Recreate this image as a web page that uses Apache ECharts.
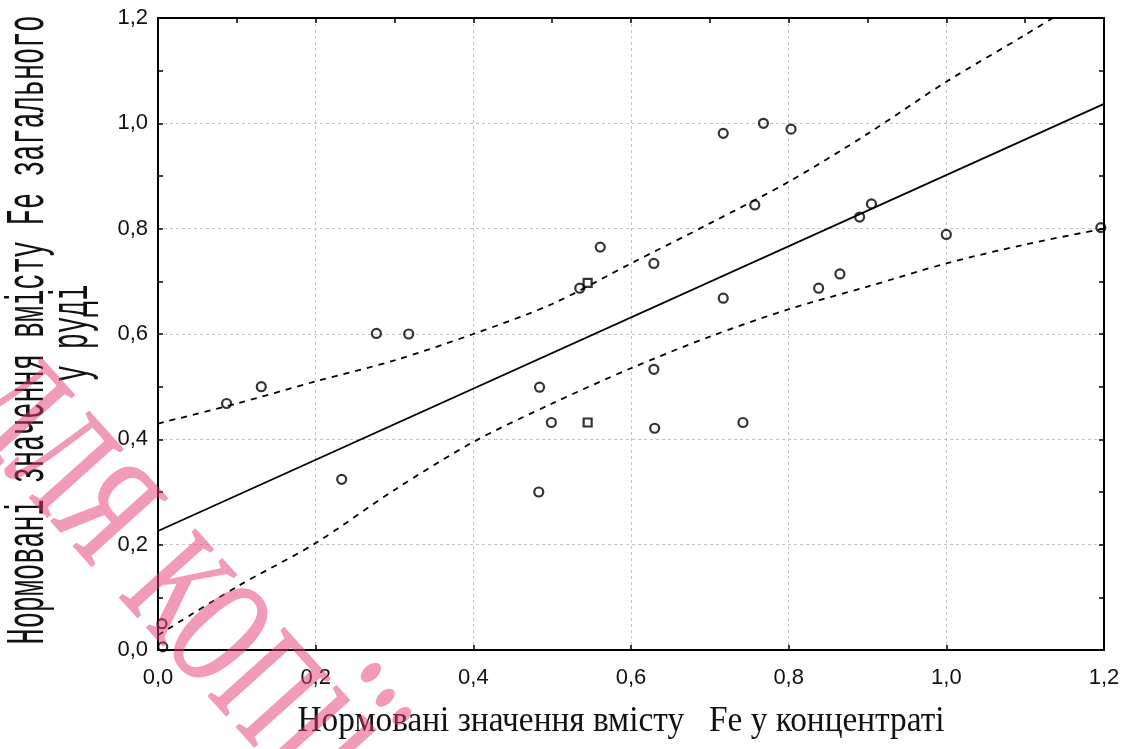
<!DOCTYPE html>
<html>
<head>
<meta charset="utf-8">
<script src="https://cdn.jsdelivr.net/npm/echarts@6/dist/echarts.min.js"></script>
<style>
html,body{margin:0;padding:0;background:#fff;}
#chart{width:1133px;height:749px;}
</style>
</head>
<body>
<div id="chart"></div>
<script>
// ---- data ----
const circleX = [0.005, 0.006, 0.087, 0.131, 0.233, 0.277, 0.318, 0.484, 0.483, 0.499, 0.535, 0.561, 0.629, 0.629, 0.630, 0.717, 0.768, 0.803, 0.757, 0.717, 0.742, 0.838, 0.865, 0.890, 0.905, 1.000, 1.196];
const circleY = [0.050, 0.006, 0.468, 0.500, 0.324, 0.601, 0.600, 0.499, 0.300, 0.432, 0.687, 0.765, 0.734, 0.533, 0.421, 0.981, 1.000, 0.989, 0.845, 0.668, 0.432, 0.687, 0.714, 0.822, 0.847, 0.789, 0.802];
const squareX = [0.545, 0.545];
const squareY = [0.697, 0.432];
const fitX = [0.0, 1.2];
const fitY = [0.226, 1.037];
const bandX  = [0.0, 0.1, 0.2, 0.3, 0.4, 0.5, 0.6, 0.7, 0.8, 0.9, 1.0, 1.1, 1.2];
const upperY = [0.430, 0.468, 0.510, 0.550, 0.600, 0.657, 0.734, 0.810, 0.889, 0.980, 1.079, 1.168, 1.260];
const lowerY = [0.028, 0.120, 0.203, 0.304, 0.395, 0.468, 0.535, 0.595, 0.647, 0.690, 0.734, 0.770, 0.800];
const xTickLabels = ['0,0', '0,2', '0,4', '0,6', '0,8', '1,0', '1,2'];
const yTickLabels = ['0,0', '0,2', '0,4', '0,6', '0,8', '1,0', '1,2'];
const xTitle = 'Нормовані значення вмісту   Fe у концентраті';
const yTitle1 = 'Нормовані значення вмісту Fe загального';
const yTitle2 = 'у руді';
const watermark = 'для копії';

const zip = (a, b) => a.map((v, i) => [v, b[i]]);

function measure(text, font) {
  const c = document.createElement('canvas').getContext('2d');
  c.font = font;
  return c.measureText(text).width;
}

const yFontSize = 54, yFont = '"Liberation Mono"';
const y1w = measure(yTitle1, yFontSize + 'px ' + yFont);
const yScale = 629 / y1w;
const xFontSize = 36, xFont = '"Liberation Serif"';
const xw = measure(xTitle, xFontSize + 'px ' + xFont);
const xScale = 647 / xw;
const wmAngle = -48 * Math.PI / 180;

const chart = echarts.init(document.getElementById('chart'));
const labelStyle = {color: '#111', fontFamily: '"Liberation Sans", Arial, sans-serif', fontSize: 22};
const axisLine = {show: true, onZero: false, lineStyle: {color: '#000', width: 2}};
const tick = {show: true, inside: true, length: 5, lineStyle: {color: '#000', width: 1.5}};
const minor = {show: true, splitNumber: 2, length: 5, lineStyle: {color: '#000', width: 1.5}};
const split = {show: true, lineStyle: {color: '#c4c4c4', width: 1, type: [3, 3]}};

chart.setOption({
  animation: false,
  backgroundColor: '#fff',
  grid: {left: 158, right: 29, top: 18, bottom: 99, containLabel: false},
  xAxis: [
    {type: 'value', min: 0, max: 1.2, interval: 0.2, position: 'bottom',
     axisLine: axisLine, axisTick: tick, splitLine: split,
     axisLabel: Object.assign({margin: 17, formatter: v => xTickLabels[Math.round(v / 0.2)]}, labelStyle)},
    {type: 'value', min: 0, max: 1.2, interval: 0.2, position: 'top',
     axisLine: axisLine, axisTick: tick, minorTick: minor, splitLine: {show: false}, axisLabel: {show: false}}
  ],
  yAxis: [
    {type: 'value', min: 0, max: 1.2, interval: 0.2, position: 'left',
     axisLine: axisLine, axisTick: tick, minorTick: minor, splitLine: split,
     axisLabel: Object.assign({margin: 10, formatter: v => yTickLabels[Math.round(v / 0.2)]}, labelStyle)},
    {type: 'value', min: 0, max: 1.2, interval: 0.2, position: 'right',
     axisLine: axisLine, axisTick: tick, minorTick: minor, splitLine: {show: false}, axisLabel: {show: false}}
  ],
  series: [
    {type: 'line', data: zip(bandX, upperY), smooth: 0.3, symbol: 'none', clip: true,
     lineStyle: {color: '#000', width: 1.8, type: [6, 6]}, z: 3},
    {type: 'line', data: zip(bandX, lowerY), smooth: 0.3, symbol: 'none', clip: true,
     lineStyle: {color: '#000', width: 1.8, type: [6, 6]}, z: 3},
    {type: 'line', data: zip(fitX, fitY), symbol: 'none', clip: true,
     lineStyle: {color: '#000', width: 1.8}, z: 3},
    {type: 'scatter', data: zip(circleX, circleY), symbol: 'circle', symbolSize: 9,
     itemStyle: {color: 'rgba(255,255,255,0)', borderColor: '#000', borderWidth: 2.2}, z: 4},
    {type: 'scatter', data: zip(squareX, squareY), symbol: 'rect', symbolSize: 8,
     itemStyle: {color: 'rgba(255,255,255,0)', borderColor: '#000', borderWidth: 2.2}, z: 4}
  ],
  graphic: [
    {type: 'text', x: 29, y: 330, rotation: Math.PI / 2, scaleX: yScale, scaleY: 1, z: 10,
     style: {text: yTitle1, fontSize: yFontSize, fontFamily: yFont, fill: '#111',
             textAlign: 'center', textVerticalAlign: 'middle', align: 'center', verticalAlign: 'middle'}},
    {type: 'text', x: 73, y: 333, rotation: Math.PI / 2, scaleX: yScale, scaleY: 1, z: 10,
     style: {text: yTitle2, fontSize: yFontSize, fontFamily: yFont, fill: '#111',
             textAlign: 'center', textVerticalAlign: 'middle', align: 'center', verticalAlign: 'middle'}},
    {type: 'text', x: 621, y: 722, scaleX: xScale, scaleY: 1, z: 10,
     style: {text: xTitle, fontSize: xFontSize, fontFamily: xFont, fill: '#111',
             textAlign: 'center', textVerticalAlign: 'middle', align: 'center', verticalAlign: 'middle'}},
    {type: 'text', x: -2, y: 375, rotation: wmAngle, scaleX: 0.63, scaleY: 1, z: 20,
     style: {text: watermark, fontSize: 225, fontFamily: '"Liberation Serif"', fill: 'rgba(228,56,110,0.5)',
             textAlign: 'left', textVerticalAlign: 'middle', align: 'left', verticalAlign: 'middle'}}
  ]
});
</script>
</body>
</html>
